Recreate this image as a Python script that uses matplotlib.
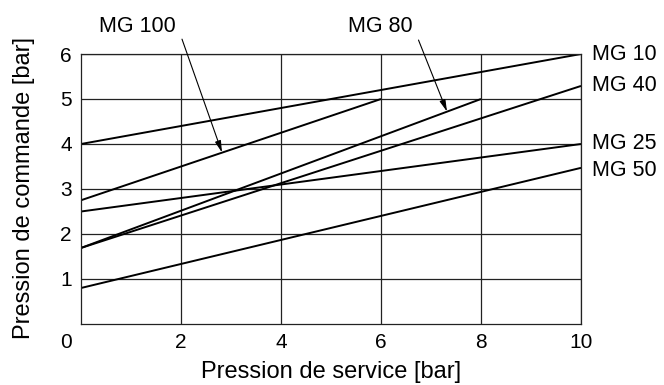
import matplotlib.pyplot as plt

plt.rcParams['font.family'] = ['Liberation Sans', 'DejaVu Sans']

# curves: start and end points of each straight line
names = ["MG 10", "MG 40", "MG 25", "MG 50", "MG 100", "MG 80"]
x_start = [0, 0, 0, 0, 0, 0]
y_start = [4.0, 1.69, 2.5, 0.8, 2.75, 1.69]
x_end = [10, 10, 10, 10, 6, 8]
y_end = [6.0, 5.29, 4.0, 3.47, 5.0, 5.0]

xticks = [2, 4, 6, 8, 10]
yticks = [1, 2, 3, 4, 5, 6]

# labels at the right edge (baseline in data units)
right_names = ["MG 10", "MG 40", "MG 25", "MG 50"]
right_base = [5.87, 5.18, 3.89, 3.29]

fig = plt.figure(figsize=(6.64, 3.85), dpi=100)
ax = fig.add_axes([81/664, 1-324/385, 500/664, 270/385])

for i in range(len(names)):
    ax.plot([x_start[i], x_end[i]], [y_start[i], y_end[i]], color='black', lw=1.4, solid_capstyle='butt')

ax.set_xlim(0, 10)
ax.set_ylim(0, 6)
ax.set_xticks(xticks)
ax.set_yticks(yticks)
ax.grid(True, color='#222222', lw=0.9)
ax.tick_params(length=0, labelsize=15, pad=6.5)
for s in ax.spines.values():
    s.set_linewidth(0.9)
    s.set_color('#222222')

# the shared zero at the corner
ax.annotate("0", xy=(0, 0), xytext=(-6.5, -6.5), textcoords='offset points', fontsize=15, ha='right', va='top')

ax.set_xlabel("Pression de service [bar]", fontsize=17)
ax.set_ylabel("Pression de commande [bar]", fontsize=17)
ax.xaxis.set_label_coords(0.5, -0.137)
ax.yaxis.set_label_coords(-0.092, 0.502)

for n, yb in zip(right_names, right_base):
    ax.annotate(n, xy=(10, yb), xytext=(8, 0), textcoords='offset points', fontsize=15.5,
                ha='left', va='baseline', annotation_clip=False)

# arrow labels
arrow = dict(arrowstyle='-|>,head_length=0.7,head_width=0.18', color='black', lw=0.8,
             shrinkA=0, shrinkB=0, mutation_scale=10)
ax.text(1.12, 6.62, "MG 100", fontsize=15.5, ha='center', va='center')
ax.annotate("", xy=(2.82, 3.81), xytext=(2.02, 6.33), arrowprops=arrow, annotation_clip=False)
ax.text(5.98, 6.62, "MG 80", fontsize=15.5, ha='center', va='center')
ax.annotate("", xy=(7.32, 4.72), xytext=(6.75, 6.31), arrowprops=arrow, annotation_clip=False)

fig.savefig("out.png", dpi=100)
